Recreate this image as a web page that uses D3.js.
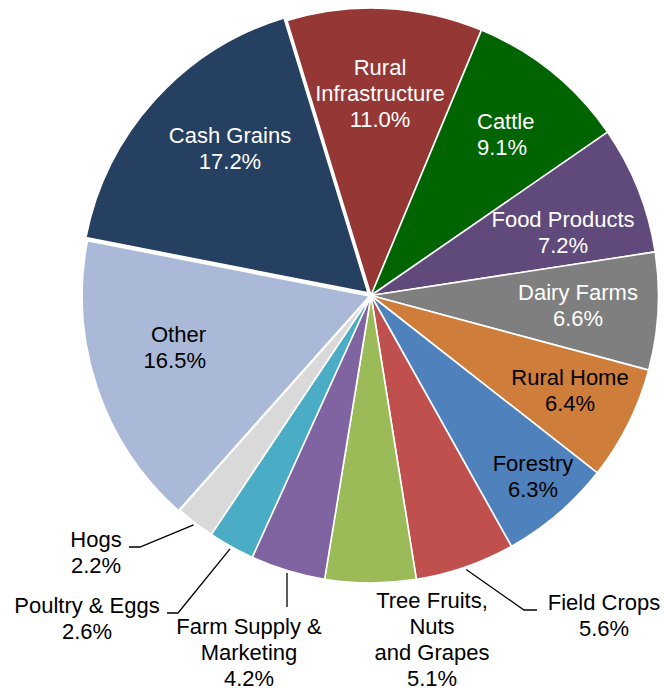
<!DOCTYPE html>
<html>
<head>
<meta charset="utf-8">
<script src="https://cdn.jsdelivr.net/npm/d3@7"></script>
<style>
  html, body { margin: 0; padding: 0; background: #fff; }
  svg { display: block; }
  text { font-family: "Liberation Sans", Arial, sans-serif; font-size: 22px; }
</style>
</head>
<body>
<svg id="chart" width="664" height="691"></svg>
<script>
// Loan volume share by purpose, listed clockwise from the top
const categories = [
  "Rural Infrastructure", "Cattle", "Food Products", "Dairy Farms", "Rural Home",
  "Forestry", "Field Crops", "Tree Fruits, Nuts and Grapes", "Farm Supply & Marketing",
  "Poultry & Eggs", "Hogs", "Other", "Cash Grains"
];
const shares = [11.0, 9.1, 7.2, 6.6, 6.4, 6.3, 5.6, 5.1, 4.2, 2.6, 2.2, 16.5, 17.2];
// How each label is broken across lines (last line is the percentage)
const labelLines = [
  ["Rural", "Infrastructure"], ["Cattle"], ["Food Products"], ["Dairy Farms"], ["Rural Home"],
  ["Forestry"], ["Field Crops"], ["Tree Fruits,", "Nuts", "and Grapes"], ["Farm Supply &", "Marketing"],
  ["Poultry & Eggs"], ["Hogs"], ["Other"], ["Cash Grains"]
];
const colors = [
  "#953735", "#006400", "#604A7B", "#7F7F7F", "#CF7D3B",
  "#4F81BD", "#C0504D", "#9BBB59", "#8064A2",
  "#4BACC6", "#D9D9D9", "#A9B9D7", "#254061"
];

// Presentation: label placement, text colour, slice pull-out
const labelLayout = [
  { x: 380, y: 75,  anchor: "middle", fill: "#fff" },
  { x: 477, y: 129, anchor: "start",  fill: "#fff" },
  { x: 563, y: 227, anchor: "middle", fill: "#fff" },
  { x: 578, y: 300, anchor: "middle", fill: "#fff" },
  { x: 570, y: 385, anchor: "middle", fill: "#000" },
  { x: 533, y: 471, anchor: "middle", fill: "#000" },
  { x: 604, y: 610, anchor: "middle", fill: "#000", leader: [[524, 610], [537, 610]] },
  { x: 432, y: 608, anchor: "middle", fill: "#000" },
  { x: 249, y: 634, anchor: "middle", fill: "#000", leader: [[287, 607]] },
  { x: 87,  y: 613, anchor: "middle", fill: "#000", leader: [[178, 613], [167, 613]] },
  { x: 96,  y: 547, anchor: "middle", fill: "#000", leader: [[140, 547], [129, 547]] },
  { x: 206, y: 342, anchor: "end",    fill: "#000" },
  { x: 230, y: 143, anchor: "middle", fill: "#fff" }
];
const explode = [0, 0, 0, 0, 0, 0, 0, 0, 0, 0, 0, 1.5, 4];

const cx = 371, cy = 295.5, radius = 287.5, lineGap = 26;
const startDeg = -17;

const data = categories.map((c, i) => ({ name: c, value: shares[i], i }));

const pie = d3.pie()
  .value(d => d.value)
  .sort(null)
  .startAngle(startDeg * Math.PI / 180)
  .endAngle((startDeg + 360) * Math.PI / 180);

const arc = d3.arc().innerRadius(0).outerRadius(radius);
const arcs = pie(data);

const svg = d3.select("#chart");
const g = svg.append("g").attr("transform", `translate(${cx},${cy})`);

g.selectAll("path.slice")
  .data(arcs)
  .join("path")
  .attr("class", "slice")
  .attr("d", arc)
  .attr("fill", d => colors[d.data.i])
  .attr("stroke", "#fff")
  .attr("stroke-width", 1.6)
  .attr("stroke-linejoin", "round")
  .attr("transform", d => {
    const a = (d.startAngle + d.endAngle) / 2;
    const e = explode[d.data.i];
    return `translate(${e * Math.sin(a)},${-e * Math.cos(a)})`;
  });

// Leader lines from the rim of small slices to their outside labels
const fmt = v => d3.format(".1f")(v) + "%";
const line = d3.line();
arcs.forEach(d => {
  const lay = labelLayout[d.data.i];
  if (!lay.leader) return;
  const a = (d.startAngle + d.endAngle) / 2;
  const r0 = radius + 2.5;
  const start = [cx + r0 * Math.sin(a), cy - r0 * Math.cos(a)];
  svg.append("path")
    .attr("d", line([start, ...lay.leader]))
    .attr("fill", "none")
    .attr("stroke", "#000")
    .attr("stroke-width", 1.3);
});

// Category name and share labels
arcs.forEach(d => {
  const lay = labelLayout[d.data.i];
  const lines = labelLines[d.data.i].concat([fmt(d.data.value)]);
  const t = svg.append("text")
    .attr("text-anchor", lay.anchor)
    .attr("fill", lay.fill);
  lines.forEach((s, k) => {
    t.append("tspan").attr("x", lay.x).attr("y", lay.y + k * lineGap).text(s);
  });
});
</script>
</body>
</html>
